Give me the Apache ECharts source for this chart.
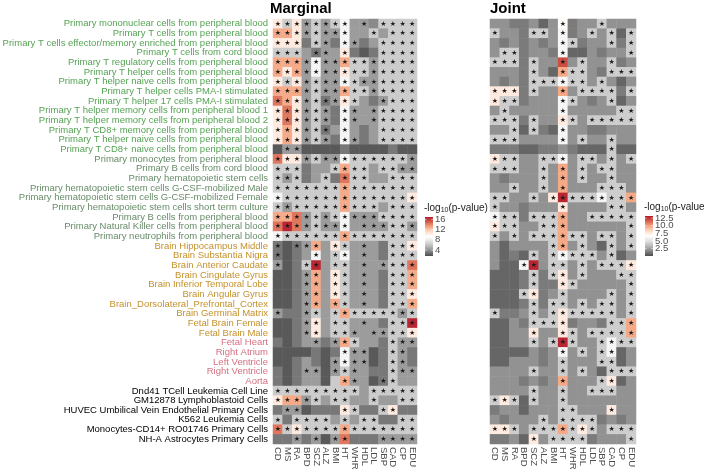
<!DOCTYPE html>
<html>
<head>
<meta charset="utf-8">
<script src="https://cdn.jsdelivr.net/npm/echarts@6/dist/echarts.min.js"></script>
<style>
html, body { margin: 0; padding: 0; background: #fff; }
#chart { width: 704px; height: 474px; }
</style>
</head>
<body>
<div id="chart"></div>
<script>
'use strict';

var traits = ['CD', 'MS', 'RA', 'BPD', 'SCZ', 'ALZ', 'BMI', 'HT', 'WHR', 'HDL', 'LDL', 'SBP', 'CAD', 'CP', 'EDU'];

var tissues = [
    'Primary mononuclear cells from peripheral blood',
    'Primary T cells from peripheral blood',
    'Primary T cells effector/memory enriched from peripheral blood',
    'Primary T cells from cord blood',
    'Primary T regulatory cells from peripheral blood',
    'Primary T helper cells from peripheral blood',
    'Primary T helper naive cells from peripheral blood',
    'Primary T helper cells PMA-I stimulated',
    'Primary T helper 17 cells PMA-I stimulated',
    'Primary T helper memory cells from peripheral blood 1',
    'Primary T helper memory cells from peripheral blood 2',
    'Primary T CD8+ memory cells from peripheral blood',
    'Primary T helper naive cells from peripheral blood',
    'Primary T CD8+ naive cells from peripheral blood',
    'Primary monocytes from peripheral blood',
    'Primary B cells from cord blood',
    'Primary hematopoietic stem cells',
    'Primary hematopoietic stem cells G-CSF-mobilized Male',
    'Primary hematopoietic stem cells G-CSF-mobilized Female',
    'Primary hematopoietic stem cells short term culture',
    'Primary B cells from peripheral blood',
    'Primary Natural Killer cells from peripheral blood',
    'Primary neutrophils from peripheral blood',
    'Brain Hippocampus Middle',
    'Brain Substantia Nigra',
    'Brain Anterior Caudate',
    'Brain Cingulate Gyrus',
    'Brain Inferior Temporal Lobe',
    'Brain Angular Gyrus',
    'Brain_Dorsolateral_Prefrontal_Cortex',
    'Brain Germinal Matrix',
    'Fetal Brain Female',
    'Fetal Brain Male',
    'Fetal Heart',
    'Right Atrium',
    'Left Ventricle',
    'Right Ventricle',
    'Aorta',
    'Dnd41 TCell Leukemia Cell Line',
    'GM12878 Lymphoblastoid Cells',
    'HUVEC Umbilical Vein Endothelial Primary Cells',
    'K562 Leukemia Cells',
    'Monocytes-CD14+ RO01746 Primary Cells',
    'NH-A Astrocytes Primary Cells'
];

// tissue group of each row (label colour)
var tissueGroups = [
    'blood', 'blood', 'blood', 'blood', 'blood', 'blood', 'blood', 'blood', 'blood', 'blood', 'blood', 'blood', 'blood', 'blood',
    'hsc', 'hsc', 'hsc', 'hsc', 'hsc', 'hsc', 'hsc', 'hsc', 'hsc',
    'brain', 'brain', 'brain', 'brain', 'brain', 'brain', 'brain', 'brain', 'brain', 'brain',
    'heart', 'heart', 'heart', 'heart', 'heart',
    'encode', 'encode', 'encode', 'encode', 'encode', 'encode'
];

var groupColors = {
    blood: '#55A354',
    hsc: '#678C69',
    brain: '#C5912B',
    heart: '#D56F80',
    encode: '#000000'
};

// -log10(p-value), marginal analysis
var marginalValues = [
    [10.4, 6.4, 10.4, 4.4, 6.4, 4.4, 6.4, 8.7, 4.4, 4.4, 3.7, 6.4, 6.4, 6.4, 6.4],
    [12.9, 12.9, 10.4, 4.4, 6.4, 4.4, 4.4, 8.7, 4.4, 4.4, 6.4, 4.4, 6.4, 6.4, 6.4],
    [10.4, 10.4, 10.4, 3.1, 6.4, 4.4, 3.1, 8.7, 4.4, 3.1, 4.4, 6.4, 6.4, 6.4, 6.4],
    [6.4, 6.4, 6.4, 4.4, 3.1, 4.4, 4.4, 10.4, 3.1, 2.1, 3.1, 6.4, 6.4, 6.4, 6.4],
    [12.9, 12.9, 12.9, 4.4, 8.7, 4.4, 4.4, 12.9, 6.4, 6.4, 4.4, 6.4, 6.4, 6.4, 6.4],
    [12.9, 10.4, 12.9, 4.4, 8.7, 4.4, 4.4, 10.4, 6.4, 6.4, 4.4, 6.4, 6.4, 6.4, 6.4],
    [10.4, 6.4, 10.4, 4.4, 6.4, 4.4, 4.4, 8.7, 6.4, 4.4, 4.4, 6.4, 6.4, 6.4, 6.4],
    [12.9, 12.9, 12.9, 4.4, 6.4, 4.4, 4.4, 12.9, 6.4, 6.4, 4.4, 6.4, 6.4, 6.4, 6.4],
    [14.4, 12.9, 10.4, 4.4, 6.4, 3.1, 4.4, 10.4, 6.4, 4.4, 3.1, 4.4, 6.4, 6.4, 6.4],
    [10.4, 14.4, 10.4, 4.4, 6.4, 4.4, 3.1, 8.7, 4.4, 4.4, 4.4, 6.4, 6.4, 6.4, 6.4],
    [10.4, 14.4, 10.4, 4.4, 6.4, 4.4, 3.1, 8.7, 4.4, 4.4, 4.4, 6.4, 6.4, 6.4, 6.4],
    [10.4, 12.9, 10.4, 4.4, 6.4, 3.1, 4.4, 8.7, 4.4, 3.1, 4.4, 6.4, 6.4, 6.4, 6.4],
    [10.4, 12.9, 10.4, 4.4, 6.4, 4.4, 3.1, 8.7, 4.4, 3.1, 4.4, 6.4, 6.4, 6.4, 6.4],
    [2.1, 4.4, 4.4, 2.1, 2.1, 2.1, 2.1, 3.1, 2.1, 2.1, 2.1, 2.1, 3.1, 2.1, 2.1],
    [14.4, 10.4, 10.4, 4.4, 6.4, 4.4, 4.4, 8.7, 6.4, 6.4, 6.4, 6.4, 6.4, 6.4, 4.4],
    [6.4, 6.4, 6.4, 3.1, 4.4, 4.4, 6.4, 12.9, 6.4, 6.4, 4.4, 6.4, 6.4, 4.4, 4.4],
    [6.4, 4.4, 6.4, 3.1, 4.4, 6.4, 3.1, 14.4, 6.4, 6.4, 4.4, 4.4, 6.4, 6.4, 6.4],
    [6.4, 6.4, 6.4, 6.4, 6.4, 6.4, 6.4, 12.9, 6.4, 6.4, 6.4, 6.4, 6.4, 6.4, 6.4],
    [8.7, 6.4, 6.4, 6.4, 6.4, 6.4, 6.4, 12.9, 6.4, 6.4, 6.4, 6.4, 6.4, 6.4, 10.4],
    [6.4, 4.4, 6.4, 6.4, 6.4, 6.4, 6.4, 12.9, 6.4, 6.4, 6.4, 4.4, 6.4, 6.4, 6.4],
    [12.9, 12.9, 14.4, 4.4, 6.4, 4.4, 6.4, 8.7, 4.4, 4.4, 4.4, 6.4, 6.4, 6.4, 6.4],
    [14.4, 16.5, 14.4, 4.4, 6.4, 4.4, 4.4, 8.7, 4.4, 4.4, 4.4, 4.4, 6.4, 6.4, 4.4],
    [8.7, 6.4, 6.4, 6.4, 6.4, 6.4, 6.4, 12.9, 6.4, 6.4, 6.4, 6.4, 6.4, 6.4, 6.4],
    [3.1, 2.1, 3.1, 4.4, 12.9, 4.4, 10.4, 6.4, 4.4, 4.4, 4.4, 3.1, 6.4, 6.4, 10.4],
    [3.1, 2.1, 3.1, 4.4, 8.7, 4.4, 6.4, 8.7, 4.4, 4.4, 4.4, 3.1, 6.4, 6.4, 6.4],
    [4.4, 2.1, 3.1, 6.4, 16.5, 4.4, 6.4, 6.4, 4.4, 4.4, 4.4, 4.4, 6.4, 6.4, 14.4],
    [2.1, 2.1, 3.1, 4.4, 12.9, 4.4, 10.4, 6.4, 4.4, 4.4, 4.4, 3.1, 6.4, 6.4, 12.9],
    [2.1, 2.1, 3.1, 4.4, 12.9, 4.4, 10.4, 6.4, 4.4, 4.4, 4.4, 3.1, 6.4, 6.4, 12.9],
    [2.1, 2.1, 3.1, 4.4, 12.9, 4.4, 10.4, 6.4, 4.4, 4.4, 4.4, 3.1, 6.4, 6.4, 10.4],
    [2.1, 2.1, 3.1, 4.4, 12.9, 4.4, 12.9, 6.4, 4.4, 4.4, 4.4, 3.1, 6.4, 6.4, 12.9],
    [4.4, 3.1, 3.1, 4.4, 6.4, 4.4, 6.4, 12.9, 6.4, 6.4, 6.4, 6.4, 6.4, 4.4, 6.4],
    [2.1, 2.1, 3.1, 4.4, 10.4, 4.4, 6.4, 6.4, 4.4, 4.4, 4.4, 3.1, 6.4, 6.4, 16.5],
    [2.1, 2.1, 3.1, 4.4, 10.4, 4.4, 6.4, 6.4, 4.4, 4.4, 4.4, 4.4, 6.4, 6.4, 10.4],
    [3.1, 2.1, 3.1, 4.4, 4.4, 3.1, 4.4, 12.9, 6.4, 4.4, 4.4, 3.1, 6.4, 4.4, 4.4],
    [2.1, 2.1, 2.1, 2.1, 3.1, 2.1, 3.1, 8.7, 4.4, 4.4, 2.1, 3.1, 6.4, 4.4, 3.1],
    [2.1, 2.1, 3.1, 4.4, 3.1, 2.1, 4.4, 8.7, 4.4, 4.4, 2.1, 3.1, 6.4, 4.4, 3.1],
    [3.1, 2.1, 3.1, 4.4, 4.4, 2.1, 4.4, 6.4, 4.4, 4.4, 3.1, 3.1, 6.4, 4.4, 4.4],
    [3.1, 2.1, 3.1, 4.4, 4.4, 2.1, 6.4, 12.9, 4.4, 4.4, 2.1, 3.1, 6.4, 4.4, 4.4],
    [6.4, 6.4, 6.4, 6.4, 6.4, 6.4, 6.4, 6.4, 6.4, 4.4, 6.4, 6.4, 6.4, 6.4, 6.4],
    [10.4, 12.9, 12.9, 4.4, 6.4, 4.4, 6.4, 6.4, 4.4, 4.4, 6.4, 4.4, 4.4, 6.4, 6.4],
    [3.1, 4.4, 4.4, 2.1, 3.1, 3.1, 3.1, 10.4, 6.4, 3.1, 3.1, 6.4, 10.4, 3.1, 3.1],
    [6.4, 3.1, 6.4, 6.4, 6.4, 6.4, 4.4, 6.4, 4.4, 6.4, 6.4, 3.1, 3.1, 6.4, 6.4],
    [14.4, 6.4, 10.4, 6.4, 6.4, 6.4, 6.4, 12.9, 6.4, 6.4, 6.4, 6.4, 6.4, 6.4, 6.4],
    [3.1, 3.1, 4.4, 3.1, 4.4, 2.1, 4.4, 14.4, 3.1, 3.1, 3.1, 4.4, 4.4, 4.4, 4.4]
];

// 1 = significant (star), one character per trait
var marginalStars = [
    '111111110101111', '111111110010111', '111011011001111', '111011010001111',
    '111111111111111', '111111111111111', '111111111111111', '111111111111111',
    '111111111001111', '111111011011111', '111111011011111', '111111010001111',
    '111111011001111', '011000000000000', '111111111111111', '111000111101111',
    '111001011100111', '111111111111111', '111111111111111', '111111111110111',
    '111111111111111', '111111110111111', '111111111111111', '101110110100111',
    '100010110100111', '100110110101111', '000110110100111', '000110110100111',
    '000110110100111', '000110110100111', '100110111111111', '000110110100111',
    '000110111011111', '000010111000111', '000000011100110', '000000111100110',
    '000110111000111', '000000011001100', '111111111011111', '111110110010011',
    '011000011001100', '101111010110011', '111111111111111', '001010110001111'
];

// -log10(p-value), joint analysis
var jointValues = [
    [2.1, 2.1, 1.4, 1.4, 2.1, 0.8, 2.1, 6.8, 1.4, 2.1, 2.1, 4.2, 2.1, 2.1, 2.1],
    [4.2, 2.1, 2.1, 1.4, 4.2, 4.2, 2.1, 6.2, 1.4, 2.1, 4.2, 2.1, 4.2, 0.8, 4.2],
    [2.1, 1.4, 2.1, 1.4, 2.1, 1.4, 2.1, 6.2, 4.2, 1.4, 2.1, 2.1, 4.2, 1.4, 4.2],
    [2.1, 4.2, 4.2, 1.4, 2.1, 2.1, 1.4, 6.2, 0.8, 0.8, 2.1, 1.4, 2.1, 2.1, 4.2],
    [4.2, 4.2, 4.2, 1.4, 4.2, 2.1, 2.1, 12.0, 2.1, 4.2, 2.1, 2.1, 4.2, 1.4, 2.1],
    [2.1, 2.1, 2.1, 1.4, 4.2, 2.1, 0.8, 9.8, 4.2, 4.2, 2.1, 1.4, 4.2, 4.2, 4.2],
    [2.1, 1.4, 2.1, 1.4, 4.2, 4.2, 4.2, 6.2, 4.2, 4.2, 2.1, 4.2, 2.1, 0.8, 2.1],
    [7.6, 7.6, 7.6, 1.4, 4.2, 2.1, 2.1, 9.8, 2.1, 4.2, 4.2, 4.2, 4.2, 1.4, 4.2],
    [7.6, 4.2, 4.2, 1.4, 2.1, 2.1, 2.1, 6.2, 4.2, 2.1, 1.4, 2.1, 4.2, 0.8, 2.1],
    [2.1, 4.2, 2.1, 2.1, 2.1, 2.1, 2.1, 6.2, 2.1, 2.1, 2.1, 2.1, 2.1, 4.2, 4.2],
    [4.2, 4.2, 4.2, 1.4, 4.2, 2.1, 2.1, 7.6, 4.2, 2.1, 4.2, 4.2, 4.2, 4.2, 4.2],
    [2.1, 2.1, 4.2, 0.8, 4.2, 1.4, 0.8, 6.2, 2.1, 2.1, 1.4, 1.4, 2.1, 2.1, 2.1],
    [4.2, 4.2, 4.2, 2.1, 2.1, 2.1, 2.1, 6.2, 2.1, 4.2, 2.1, 2.1, 4.2, 2.1, 2.1],
    [1.4, 1.4, 1.4, 0.8, 0.8, 1.4, 1.4, 2.1, 1.4, 0.8, 0.8, 0.8, 4.2, 0.8, 0.8],
    [7.6, 4.2, 4.2, 2.1, 2.1, 4.2, 4.2, 6.2, 2.1, 4.2, 4.2, 2.1, 4.2, 2.1, 4.2],
    [4.2, 4.2, 4.2, 2.1, 2.1, 4.2, 2.1, 9.8, 2.1, 4.2, 2.1, 4.2, 4.2, 2.1, 2.1],
    [2.1, 1.4, 2.1, 2.1, 2.1, 4.2, 2.1, 9.8, 2.1, 4.2, 2.1, 2.1, 4.2, 2.1, 2.1],
    [2.1, 2.1, 4.2, 2.1, 2.1, 4.2, 2.1, 9.8, 2.1, 2.1, 2.1, 4.2, 4.2, 4.2, 2.1],
    [4.2, 4.2, 2.1, 2.1, 4.2, 2.1, 7.6, 12.9, 4.2, 4.2, 4.2, 6.2, 4.2, 4.2, 9.8],
    [4.2, 2.1, 2.1, 1.4, 2.1, 2.1, 2.1, 7.6, 2.1, 2.1, 2.1, 2.1, 4.2, 4.2, 2.1],
    [6.2, 4.2, 4.2, 1.4, 4.2, 4.2, 4.2, 9.8, 2.1, 2.1, 4.2, 4.2, 4.2, 4.2, 4.2],
    [7.6, 4.2, 4.2, 2.1, 2.1, 4.2, 4.2, 9.8, 2.1, 2.1, 2.1, 2.1, 2.1, 2.1, 4.2],
    [4.2, 2.1, 4.2, 2.1, 4.2, 4.2, 4.2, 9.8, 4.2, 4.2, 2.1, 4.2, 4.2, 2.1, 4.2],
    [2.1, 0.8, 2.1, 2.1, 2.1, 2.1, 4.2, 9.8, 2.1, 4.2, 2.1, 0.8, 4.2, 2.1, 4.2],
    [2.1, 0.8, 1.4, 0.8, 4.2, 2.1, 4.2, 6.2, 4.2, 4.2, 4.2, 2.1, 4.2, 0.8, 2.1],
    [2.1, 0.8, 0.8, 6.2, 12.9, 2.1, 4.2, 4.2, 2.1, 4.2, 2.1, 4.2, 4.2, 4.2, 7.6],
    [0.8, 0.8, 0.8, 1.4, 4.2, 1.4, 4.2, 7.6, 2.1, 4.2, 2.1, 2.1, 2.1, 4.2, 4.2],
    [0.8, 0.8, 0.8, 1.4, 4.2, 1.4, 1.4, 7.6, 4.2, 2.1, 2.1, 2.1, 2.1, 2.1, 4.2],
    [0.8, 0.8, 0.8, 4.2, 7.6, 1.4, 2.1, 4.2, 2.1, 2.1, 2.1, 2.1, 4.2, 2.1, 4.2],
    [0.8, 0.8, 0.8, 1.4, 4.2, 1.4, 4.2, 4.2, 2.1, 4.2, 2.1, 4.2, 4.2, 2.1, 4.2],
    [4.2, 1.4, 1.4, 2.1, 4.2, 2.1, 4.2, 7.6, 4.2, 4.2, 4.2, 4.2, 4.2, 2.1, 4.2],
    [0.8, 0.8, 2.1, 1.4, 4.2, 4.2, 4.2, 7.6, 1.4, 2.1, 2.1, 1.4, 4.2, 4.2, 9.8],
    [0.8, 0.8, 2.1, 2.1, 7.6, 2.1, 2.1, 7.6, 4.2, 2.1, 4.2, 4.2, 4.2, 4.2, 9.8],
    [0.8, 0.8, 2.1, 2.1, 4.2, 2.1, 4.2, 12.9, 4.2, 2.1, 2.1, 4.2, 6.2, 4.2, 4.2],
    [0.8, 0.8, 0.8, 0.8, 2.1, 1.4, 2.1, 6.2, 2.1, 4.2, 2.1, 4.2, 6.2, 0.8, 2.1],
    [0.8, 0.8, 2.1, 2.1, 2.1, 1.4, 2.1, 4.2, 2.1, 2.1, 2.1, 4.2, 4.2, 0.8, 2.1],
    [2.1, 2.1, 2.1, 2.1, 4.2, 2.1, 2.1, 4.2, 2.1, 4.2, 2.1, 0.8, 4.2, 4.2, 4.2],
    [2.1, 2.1, 2.1, 1.4, 2.1, 1.4, 2.1, 9.8, 2.1, 2.1, 2.1, 4.2, 7.6, 0.8, 2.1],
    [2.1, 2.1, 2.1, 2.1, 4.2, 2.1, 2.1, 4.2, 2.1, 2.1, 4.2, 4.2, 4.2, 2.1, 2.1],
    [4.2, 7.6, 4.2, 0.8, 4.2, 2.1, 2.1, 4.2, 2.1, 2.1, 2.1, 2.1, 2.1, 2.1, 2.1],
    [1.4, 2.1, 2.1, 0.8, 2.1, 2.1, 2.1, 4.2, 4.2, 2.1, 2.1, 2.1, 7.6, 2.1, 2.1],
    [2.1, 1.4, 2.1, 2.1, 2.1, 4.2, 2.1, 4.2, 4.2, 4.2, 4.2, 1.4, 2.1, 1.4, 2.1],
    [7.6, 7.6, 4.2, 2.1, 4.2, 4.2, 4.2, 9.8, 4.2, 7.6, 4.2, 2.1, 4.2, 4.2, 4.2],
    [1.4, 1.4, 2.1, 0.8, 7.6, 2.1, 4.2, 4.2, 4.2, 4.2, 1.4, 2.1, 2.1, 2.1, 4.2]
];

var jointStars = [
    '000000010001000', '100011010010101', '000000011000101', '011000010000001',
    '111010010100100', '000010011100111', '000011111101000', '111010010111101',
    '111000011000100', '010000010000011', '111010011011111', '001010010000000',
    '111000010100100', '000000000000100', '111001110110101', '111001010101100',
    '000001010100100', '001001010001110', '110010111111111', '100000010000110',
    '111011110011111', '111001110000001', '101011111101101', '000000110100101',
    '000010111110100', '000110110101111', '000010110100011', '000010011000001',
    '000110010000101', '000010110101101', '100010111111101', '000011110000111',
    '000010011011111', '000010111001111', '000000010101100', '000000010001100',
    '000010010100111', '000000010001100', '000010010011100', '111010010000000',
    '000000011000100', '000001011110000', '111011111110111', '000010111100001'
];

var marginalRange = [1.7, 16.9];
var jointRange = [0.1, 13.2];
var marginalTicks = [4, 8, 12, 16];
var jointTicks = [2.5, 5, 7.5, 10, 12.5];

// grey -> white -> red
var palette = ['#4d4d4d', '#878787', '#bababa', '#e0e0e0', '#ffffff', '#fddbc7', '#f4a582', '#d6604d', '#b2182b'];

var FONT = 'Liberation Sans';

var buildData = function(values, stars) {
    var out = [];
    values.forEach(function(row, r) {
        row.forEach(function(v, c) {
            out.push([c, r, v, stars[r].charAt(c) === '1' ? 1 : 0]);
        });
    });
    return out;
};

var heatSeries = function(idx, values, stars) {
    return {
        type: 'heatmap',
        xAxisIndex: idx,
        yAxisIndex: idx,
        data: buildData(values, stars),
        label: {
            show: true,
            formatter: function(p) { return p.data[3] ? '\u2605' : ''; },
            fontSize: 7,
            fontFamily: 'DejaVu Sans',
            color: '#1a1a1a'
        },
        emphasis: { disabled: true },
        progressive: 0
    };
};

var xAxisDef = function(idx) {
    return {
        type: 'category',
        gridIndex: idx,
        data: traits,
        position: 'bottom',
        axisLine: { show: false },
        axisTick: { show: false },
        splitLine: { show: false },
        axisLabel: {
            interval: 0,
            rotate: -90,
            margin: 3,
            fontSize: 9.5,
            fontFamily: FONT,
            color: '#4d4d4d'
        }
    };
};

var yAxisDef = function(idx, showLabels) {
    return {
        type: 'category',
        gridIndex: idx,
        data: tissues,
        inverse: true,
        axisLine: { show: false },
        axisTick: { show: false },
        splitLine: { show: false },
        axisLabel: {
            show: showLabels,
            interval: 0,
            margin: 5,
            fontSize: 9.5,
            fontFamily: FONT,
            color: function(value, index) {
                return groupColors[tissueGroups[index]];
            }
        }
    };
};

// colour bar legend in ggplot style
var colorBar = function(x, y, h, range, ticks, fixed) {
    var stops = palette.map(function(c, i) {
        return { offset: 1 - i / (palette.length - 1), color: c };
    });
    var els = [{
        type: 'text',
        left: x - 1,
        top: y - 14,
        style: {
            text: '-log{s|10}(p-value)',
            font: '10px ' + FONT,
            fill: '#222',
            rich: {
                s: { fontSize: 7, fontFamily: FONT, fill: '#222', padding: [5, 0, 0, 0] }
            }
        }
    }, {
        type: 'rect',
        shape: { x: x, y: y, width: 8, height: h },
        style: { fill: new echarts.graphic.LinearGradient(0, 0, 0, 1, stops) }
    }];
    ticks.forEach(function(t) {
        var ty = y + h - (t - range[0]) / (range[1] - range[0]) * h;
        els.push({
            type: 'text',
            x: x + 10,
            y: ty,
            style: {
                text: fixed ? t.toFixed(1) : String(t),
                font: '9.5px ' + FONT,
                fill: '#4d4d4d',
                verticalAlign: 'middle'
            }
        });
        els.push({ type: 'line', shape: { x1: x, y1: ty, x2: x + 1.6, y2: ty }, style: { stroke: '#fff', lineWidth: 0.6 } });
        els.push({ type: 'line', shape: { x1: x + 6.4, y1: ty, x2: x + 8, y2: ty }, style: { stroke: '#fff', lineWidth: 0.6 } });
    });
    return els;
};

var myChart = echarts.init(document.getElementById('chart'), null, { renderer: 'canvas' });

var option = {
    backgroundColor: '#fff',
    animation: false,
    title: [{
        text: 'Marginal',
        left: 270,
        top: 1,
        padding: 0,
        textStyle: { fontSize: 15, fontWeight: 'bold', color: '#000', fontFamily: FONT }
    }, {
        text: 'Joint',
        left: 490,
        top: 1,
        padding: 0,
        textStyle: { fontSize: 15, fontWeight: 'bold', color: '#000', fontFamily: FONT }
    }],
    grid: [
        { left: 273, top: 19, width: 144, height: 425, containLabel: false, outerBoundsMode: 'none' },
        { left: 490, top: 19, width: 146, height: 425, containLabel: false, outerBoundsMode: 'none' }
    ],
    xAxis: [xAxisDef(0), xAxisDef(1)],
    yAxis: [yAxisDef(0, true), yAxisDef(1, false)],
    visualMap: [{
        show: false,
        type: 'continuous',
        seriesIndex: 0,
        dimension: 2,
        min: marginalRange[0],
        max: marginalRange[1],
        inRange: { color: palette }
    }, {
        show: false,
        type: 'continuous',
        seriesIndex: 1,
        dimension: 2,
        min: jointRange[0],
        max: jointRange[1],
        inRange: { color: palette }
    }],
    series: [
        heatSeries(0, marginalValues, marginalStars),
        heatSeries(1, jointValues, jointStars)
    ],
    graphic: colorBar(425, 217, 39, marginalRange, marginalTicks, false)
        .concat(colorBar(645, 216, 40, jointRange, jointTicks, true))
};

myChart.setOption(option);
</script>
</body>
</html>
